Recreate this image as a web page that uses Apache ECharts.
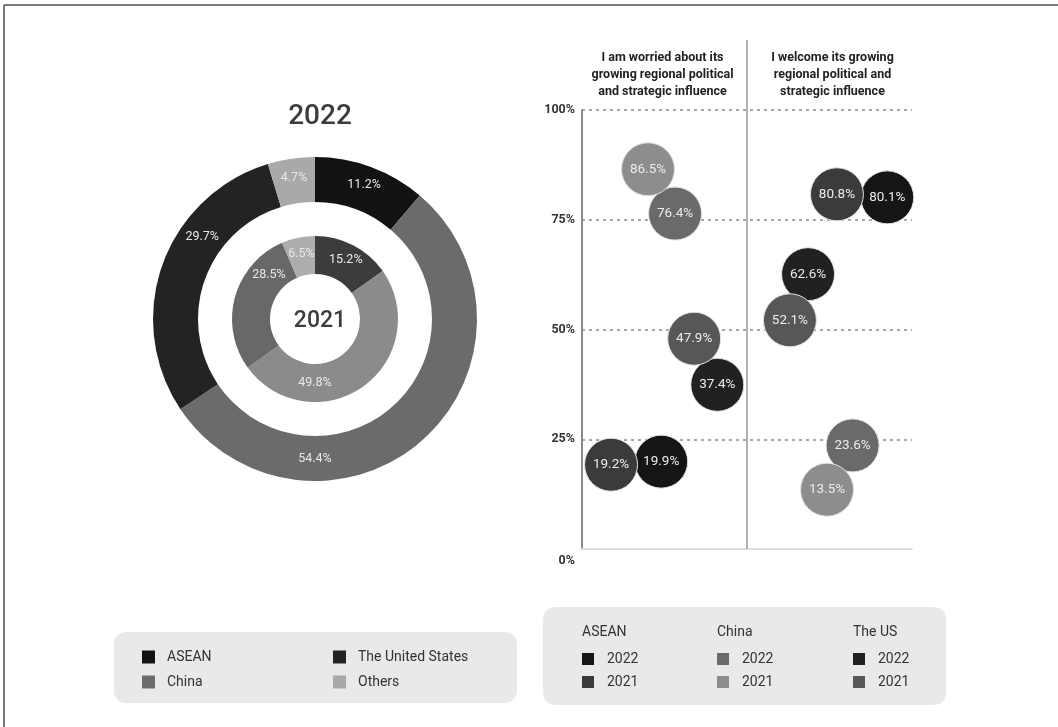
<!DOCTYPE html>
<html>
<head>
<meta charset="utf-8">
<script src="https://cdn.jsdelivr.net/npm/echarts@6/dist/echarts.min.js"></script>
<style>
  html, body { margin: 0; padding: 0; background: #fff; }
  #chart { width: 1058px; height: 727px; }
</style>
</head>
<body>
<div id="chart"></div>
<script>
// ---- Share of respondents naming each actor (donut) ----
const pieNames = ['ASEAN', 'China', 'The United States', 'Others'];
const share2022 = [11.2, 54.4, 29.7, 4.7];
const share2021 = [15.2, 49.8, 28.5, 6.5];

// ---- Attitude towards each actor's influence (bubbles) ----
const bubbleGroups = ['ASEAN 2022', 'ASEAN 2021', 'China 2022', 'China 2021', 'The US 2022', 'The US 2021'];
const worried = [19.9, 19.2, 76.4, 86.5, 37.4, 47.9];
const welcome = [80.1, 80.8, 23.6, 13.5, 62.6, 52.1];
const panelTitles = [
  'I am worried about its\ngrowing regional political\nand strategic influence',
  'I welcome its growing\nregional political and\nstrategic influence'
];

// Horizontal placement of each bubble inside its panel (0..1), layout only
const worriedSlot = [0.48, 0.176, 0.564, 0.40, 0.82, 0.68];
const welcomeSlot = [0.85, 0.545, 0.64, 0.485, 0.37, 0.26];

// ---- Styles ----
const FONT = 'Roboto, "DejaVu Sans", sans-serif';
const pieColors2022 = ['#121212', '#6b6b6b', '#232323', '#a9a9a9'];
const pieColors2021 = ['#3c3c3c', '#8b8b8b', '#686868', '#adadad'];
const bubbleColors = ['#151515', '#3b3b3b', '#6a6a6a', '#8d8d8d', '#212121', '#575757'];

// Label angle overrides (degrees clockwise from 12 o'clock) for the long slices
const labelAngleOuter = { 'China': 180, 'The United States': 306 };
const labelAngleInner = { 'China': 180, 'The United States': 314 };

const CX = 315, CY = 319;
const outerR = [117, 162], innerR = [45, 83];

// Grid of the bubble panels
const GRID = { left: 582, right: 146, top: 110, bottom: 178 };
const W = 1058, H = 727;
const gridW = W - GRID.left - GRID.right;
const xAt = v => GRID.left + gridW * v / 2;
const yBottom = H - GRID.bottom;

function labelSpots(overrides, radii) {
  const r = (radii[0] + radii[1]) / 2;
  return pieNames.map(n => {
    const want = overrides[n];
    if (want === undefined) return null;
    const a = want * Math.PI / 180;
    return { x: CX + r * Math.sin(a), y: CY - r * Math.cos(a), align: 'center', verticalAlign: 'middle' };
  });
}
const spotsOuter = labelSpots(labelAngleOuter, outerR);
const spotsInner = labelSpots(labelAngleInner, innerR);

function pieSeries(name, values, colors, radius, spots) {
  return {
    type: 'pie',
    name: name,
    center: [CX, CY],
    radius: radius,
    startAngle: 90,
    clockwise: true,
    silent: true,
    data: pieNames.map((n, i) => ({ name: n, value: values[i], itemStyle: { color: colors[i] } })),
    label: {
      show: true,
      position: 'inside',
      formatter: p => p.value.toFixed(1) + '%',
      color: '#e8e8e8',
      fontFamily: FONT,
      fontSize: 12.5
    },
    labelLayout: p => spots[p.dataIndex] || {},
    labelLine: { show: false },
    emphasis: { disabled: true }
  };
}

const bubbleSeries = bubbleGroups.map((g, i) => ({
  type: 'scatter',
  name: g,
  symbolSize: 53,
  itemStyle: { color: bubbleColors[i], borderColor: '#e2e2e2', borderWidth: 1, opacity: 1 },
  label: {
    show: true,
    position: 'inside',
    formatter: p => p.value[1].toFixed(1) + '%',
    color: '#ececec',
    fontFamily: FONT,
    fontSize: 13.5
  },
  data: [[worriedSlot[i], worried[i]], [1 + welcomeSlot[i], welcome[i]]],
  z: 3
}));

const legendText = { fontFamily: FONT, fontSize: 14, color: '#333', padding: [0, 0, 0, 7] };
function yearLegend(names, left) {
  return {
    data: names,
    orient: 'vertical',
    left: left,
    top: 652,
    padding: 0,
    icon: 'rect',
    itemWidth: 12,
    itemHeight: 12,
    itemGap: 9,
    selectedMode: false,
    itemStyle: { borderWidth: 0 },
    formatter: n => n.split(' ').pop(),
    textStyle: Object.assign({}, legendText, { padding: [0, 0, 0, 8] })
  };
}
function nameLegend(names, left) {
  return {
    data: names,
    orient: 'vertical',
    left: left,
    top: 650,
    padding: 0,
    icon: 'rect',
    itemWidth: 13,
    itemHeight: 13,
    itemGap: 11,
    selectedMode: false,
    itemStyle: { borderWidth: 0 },
    textStyle: legendText
  };
}

const headingStyle = { fontFamily: FONT, fontSize: 12.5, fontWeight: 'bold', fill: '#222', textAlign: 'center', lineHeight: 17 };
const boxText = { fontFamily: FONT, fontSize: 14, fill: '#333' };

const chart = echarts.init(document.getElementById('chart'), null, { renderer: 'canvas' });

chart.setOption({
  backgroundColor: '#ffffff',
  animation: false,
  title: [
    { text: '2022', left: CX, top: 98, textAlign: 'center',
      textStyle: { fontFamily: FONT, fontSize: 28, fontWeight: 500, color: '#3c3c3c' } },
    { text: '2021', left: CX, top: 305, textAlign: 'center',
      textStyle: { fontFamily: FONT, fontSize: 23, fontWeight: 500, color: '#3c3c3c' } }
  ],
  legend: [
    nameLegend(['ASEAN', 'China'], 142),
    nameLegend(['The United States', 'Others'], 333),
    yearLegend(['ASEAN 2022', 'ASEAN 2021'], 582),
    yearLegend(['China 2022', 'China 2021'], 717),
    yearLegend(['The US 2022', 'The US 2021'], 853)
  ],
  grid: GRID,
  xAxis: {
    type: 'value', min: 0, max: 2,
    axisLine: { show: true, lineStyle: { color: '#dddddd', width: 2 } },
    axisTick: { show: false },
    axisLabel: { show: false },
    splitLine: { show: false }
  },
  yAxis: {
    type: 'value', min: 0, max: 100, interval: 25,
    axisLine: { show: true, lineStyle: { color: '#8a8a8a', width: 2 } },
    axisTick: { show: false },
    axisLabel: {
      fontFamily: FONT, fontSize: 12.5, fontWeight: 'bold', color: '#333', margin: 7,
      formatter: v => (v === 0 ? '{z|0%}' : v + '%'),
      rich: { z: { fontFamily: FONT, fontSize: 12.5, fontWeight: 'bold', color: '#333', padding: [24, 0, 0, 0] } }
    },
    splitLine: {
      show: true,
      lineStyle: { color: ['rgba(0,0,0,0)', '#8a8a8a', '#8a8a8a', '#8a8a8a', '#8a8a8a'], type: [3, 4], width: 1.5 }
    }
  },
  series: [
    pieSeries('2022', share2022, pieColors2022, outerR, spotsOuter),
    pieSeries('2021', share2021, pieColors2021, innerR, spotsInner)
  ].concat(bubbleSeries),
  // Frame, panel divider, panel headings and legend panels
  graphic: [
    { type: 'line', shape: { x1: 4, y1: 5, x2: W, y2: 5 }, style: { stroke: '#7a7a7a', lineWidth: 2 }, silent: true },
    { type: 'line', shape: { x1: 4, y1: 5, x2: 4, y2: H }, style: { stroke: '#7a7a7a', lineWidth: 2 }, silent: true },
    { type: 'line', shape: { x1: xAt(1), y1: 40, x2: xAt(1), y2: yBottom }, style: { stroke: '#9a9a9a', lineWidth: 1.5 }, z: 1, silent: true },
    { type: 'text', x: xAt(0.5) - 2, y: 49, style: Object.assign({ text: panelTitles[0] }, headingStyle), silent: true },
    { type: 'text', x: xAt(1.5) + 3, y: 49, style: Object.assign({ text: panelTitles[1] }, headingStyle), silent: true },
    { type: 'rect', shape: { x: 114, y: 632, width: 403, height: 71, r: 12 }, style: { fill: '#e9e9e9' }, z: -10, silent: true },
    { type: 'rect', shape: { x: 543, y: 607, width: 403, height: 98, r: 12 }, style: { fill: '#e9e9e9' }, z: -10, silent: true },
    { type: 'text', x: 582, y: 625, style: Object.assign({ text: 'ASEAN' }, boxText), silent: true },
    { type: 'text', x: 717, y: 625, style: Object.assign({ text: 'China' }, boxText), silent: true },
    { type: 'text', x: 853, y: 625, style: Object.assign({ text: 'The US' }, boxText), silent: true }
  ]
});
</script>
</body>
</html>
